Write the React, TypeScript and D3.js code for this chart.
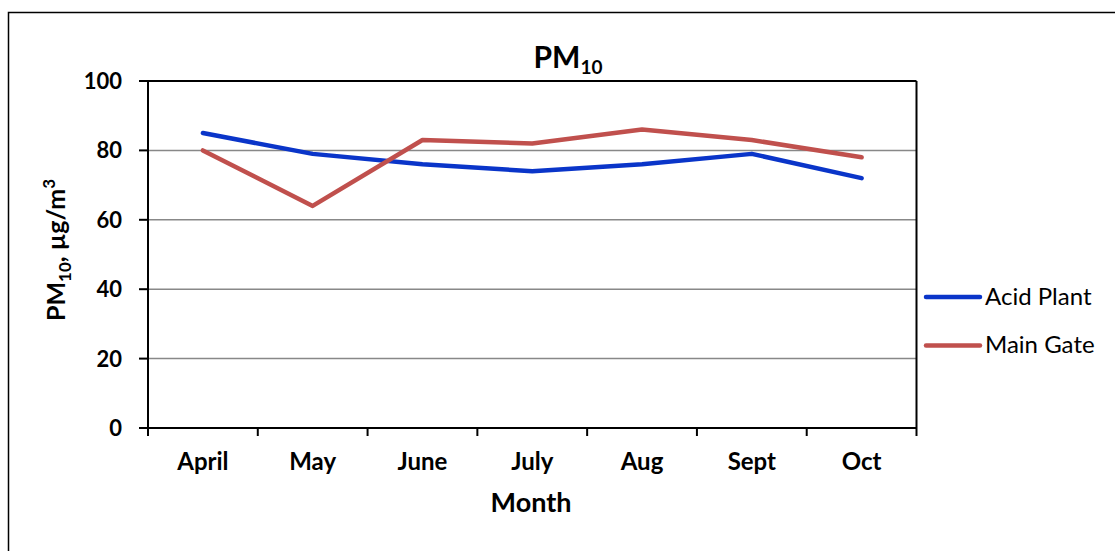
import React from "react";
import * as d3 from "d3";

const months = ["April", "May", "June", "July", "Aug", "Sept", "Oct"];
const acidPlant = [85, 79, 76, 74, 76, 79, 72];
const mainGate = [80, 64, 83, 82, 86, 83, 78];
const yTicks = [0, 20, 40, 60, 80, 100];
const seriesNames = ["Acid Plant", "Main Gate"];
const seriesColors = ["#0a35c9", "#c0504d"];

const W = 1115;
const H = 551;
const plot = { left: 148, top: 81, right: 916.5, bottom: 428 };
const FONT = "Lato, 'Open Sans', sans-serif";

export default function App() {
  const x = d3.scaleBand<string>().domain(months).range([plot.left, plot.right]);
  const y = d3.scaleLinear().domain([0, 100]).range([plot.bottom, plot.top]);
  const line = d3
    .line<number>()
    .x((_, i) => (x(months[i]) as number) + x.bandwidth() / 2)
    .y((d) => y(d));
  const series = [acidPlant, mainGate];
  const boundaries = d3.range(months.length + 1).map((i) => plot.left + i * x.step());
  const legendY = [297, 345.5];

  return (
    <svg width={W} height={H} style={{ position: "absolute", left: 0, top: 0 }}>
      <rect x={0} y={0} width={W} height={H} fill="#fff" />
      <rect x={8.5} y={12.5} width={W + 20} height={H + 20} fill="none" stroke="#000" strokeWidth={1.5} />
      {yTicks.filter((t) => t > 0 && t < 100).map((t) => (
        <line key={t} x1={plot.left} x2={plot.right} y1={y(t)} y2={y(t)} stroke="#888" strokeWidth={1.5} />
      ))}
      <line x1={plot.left} x2={plot.right} y1={plot.top} y2={plot.top} stroke="#000" strokeWidth={2} />
      <line x1={plot.right} x2={plot.right} y1={plot.top} y2={plot.bottom} stroke="#000" strokeWidth={2} />
      <line x1={plot.left} x2={plot.left} y1={plot.top} y2={plot.bottom} stroke="#000" strokeWidth={2} />
      <line x1={plot.left} x2={plot.right} y1={plot.bottom} y2={plot.bottom} stroke="#000" strokeWidth={2} />
      {yTicks.map((t) => (
        <g key={t}>
          <line x1={139} x2={plot.left} y1={y(t)} y2={y(t)} stroke="#000" strokeWidth={2} />
          <text x={122} y={y(t) + 8} textAnchor="end" fontFamily={FONT} fontWeight="bold" fontSize={22}>
            {t}
          </text>
        </g>
      ))}
      {boundaries.map((b, i) => (
        <line key={i} x1={b} x2={b} y1={plot.bottom} y2={plot.bottom + 8} stroke="#000" strokeWidth={2} />
      ))}
      {months.map((m) => (
        <text key={m} x={(x(m) as number) + x.bandwidth() / 2} y={470} textAnchor="middle" fontFamily={FONT} fontWeight="bold" fontSize={24}>
          {m}
        </text>
      ))}
      {series.map((s, i) => (
        <path key={i} d={line(s) as string} fill="none" stroke={seriesColors[i]} strokeWidth={4.5} strokeLinecap="round" strokeLinejoin="round" />
      ))}
      <text x={568} y={68} textAnchor="middle" fontFamily={FONT} fontWeight="bold" fontSize={30}>
        PM<tspan fontSize={19} dy={6}>10</tspan>
      </text>
      <text x={531} y={512} textAnchor="middle" fontFamily={FONT} fontWeight="bold" fontSize={27}>
        Month
      </text>
      <text transform="translate(65,250) rotate(-90)" textAnchor="middle" fontFamily={FONT} fontWeight="bold" fontSize={25}>
        PM<tspan fontSize={17} dy={6}>10</tspan>
        <tspan dy={-6}>, µg/m</tspan>
        <tspan fontSize={17} dy={-10}>3</tspan>
      </text>
      {seriesNames.map((n, i) => (
        <g key={n}>
          <line x1={926} x2={980} y1={legendY[i]} y2={legendY[i]} stroke={seriesColors[i]} strokeWidth={4.5} strokeLinecap="round" />
          <text x={985} y={legendY[i] + 7.5} fontFamily={FONT} fontSize={24}>
            {n}
          </text>
        </g>
      ))}
    </svg>
  );
}
